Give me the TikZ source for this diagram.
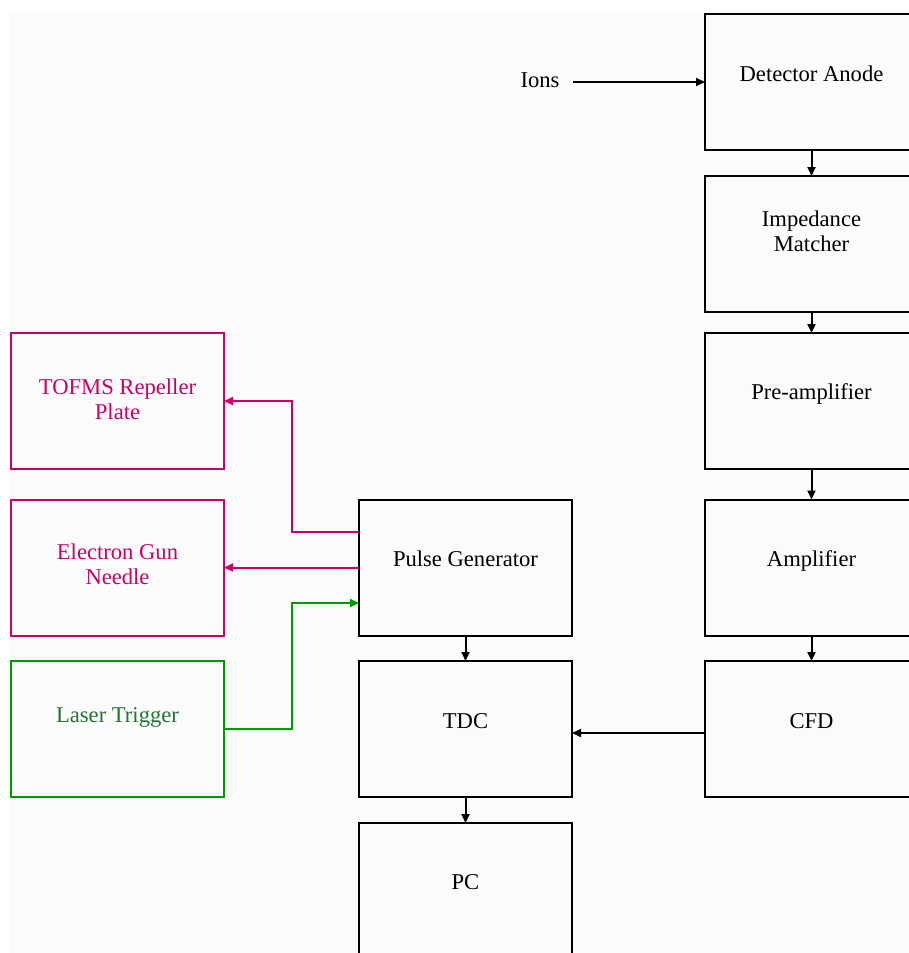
\documentclass[tikz,border=0pt]{standalone}
\usepackage{fontspec}
\setmainfont{Liberation Serif}
\usetikzlibrary{arrows.meta}
\definecolor{bgc}{RGB}{251,251,251}
\definecolor{mag}{RGB}{204,0,102}
\definecolor{lgr}{RGB}{0,153,0}
\definecolor{tgr}{RGB}{35,115,50}
\begin{document}
\begin{tikzpicture}[x=1pt,y=-1pt,
  box/.style={draw=black, line width=2pt, minimum width=213pt, minimum height=136pt, inner sep=0pt, outer sep=0pt},
  mbox/.style={box, draw=mag},
  gbox/.style={box, draw=lgr},
  txt/.style={font=\fontsize{22.6}{25}\selectfont, anchor=base, align=center, inner sep=0pt},
  arr/.style={line width=2pt, -{Triangle[length=9pt,width=8pt]}},
  marr/.style={arr, draw=mag},
  garr/.style={arr, draw=lgr}]
\useasboundingbox (0,0) rectangle (909,953);
\clip (0,0) rectangle (909,953);
\fill[white] (0,0) rectangle (909,953);
\fill[bgc] (10,13) rectangle (912,956);

% right column
\node[box] (det) at (811.5,82) {};
\node[box] (imp) at (811.5,244) {};
\node[box] (pre) at (811.5,401) {};
\node[box] (amp) at (811.5,567.5) {};
\node[box] (cfd) at (811.5,729) {};
% middle column
\node[box] (pg) at (465.5,567.5) {};
\node[box] (tdc) at (465.5,729) {};
\node[box] (pc) at (465.5,891) {};
% left column
\node[mbox] (tofms) at (117.5,401) {};
\node[mbox] (egn) at (117.5,567.5) {};
\node[gbox] (las) at (117.5,729) {};

% texts (base = baseline of the last line)
\node[txt] (detT) at (811.5,81) {Detector Anode};
\node[txt] (impT) at (811.5,251) {Impedance\\Matcher};
\node[txt] (preT) at (811.5,399) {Pre-amplifier};
\node[txt] (ampT) at (811.5,566) {Amplifier};
\node[txt] (cfdT) at (811.5,728) {CFD};
\node[txt] (pgT) at (465.5,566) {Pulse Generator};
\node[txt] (tdcT) at (465.5,728) {TDC};
\node[txt] (pcT) at (465.5,889) {PC};
\node[txt, text=mag] (tofmsT) at (117.5,419) {TOFMS Repeller\\Plate};
\node[txt, text=mag] (egnT) at (117.5,584) {Electron Gun\\Needle};
\node[txt, text=tgr] (lasT) at (117.5,722) {Laser Trigger};
\node[txt] (ions) at (540,87) {Ions};

% connectors
\coordinate (ionsStart) at (573,82);
\draw[arr] (ionsStart) -- (det.west);
\draw[arr] (det.south) -- (imp.north);
\draw[arr] (imp.south) -- (pre.north);
\draw[arr] (pre.south) -- (amp.north);
\draw[arr] (amp.south) -- (cfd.north);
\draw[arr] ([yshift=-4pt]cfd.west) -- ([yshift=-4pt]tdc.east);
\draw[arr] (pg.south) -- (tdc.north);
\draw[arr] (tdc.south) -- (pc.north);

\coordinate (b1) at (292,401);
\coordinate (b2) at (292,603);
\draw[marr] ([yshift=35.5pt]pg.west) -| (b1) -- (tofms.east);
\draw[marr] (pg.west) -- (egn.east);
\draw[garr] (las.east) -| (b2) -- ([yshift=-35.5pt]pg.west);
\end{tikzpicture}
\end{document}
